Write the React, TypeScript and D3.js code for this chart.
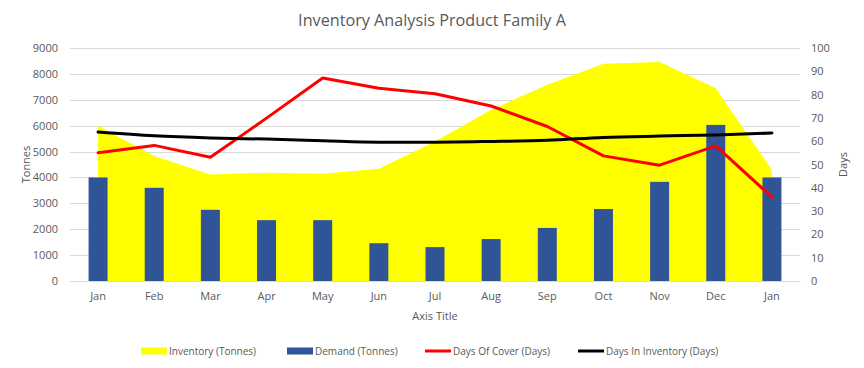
import React, { useEffect, useRef } from 'react';
import * as d3 from 'd3';

const months = ['Jan', 'Feb', 'Mar', 'Apr', 'May', 'Jun', 'Jul', 'Aug', 'Sep', 'Oct', 'Nov', 'Dec', 'Jan'];
const inventory = [6000, 4830, 4110, 4180, 4140, 4340, 5390, 6610, 7580, 8390, 8460, 7450, 4290];
const demand = [4000, 3600, 2750, 2350, 2350, 1460, 1310, 1620, 2050, 2780, 3830, 6030, 4000];
const daysOfCover = [55, 58.2, 53.1, 69.9, 87.1, 82.7, 80.4, 75.1, 66.3, 53.7, 49.7, 58, 36];
const daysInInventory = [63.9, 62.3, 61.4, 60.9, 60.2, 59.6, 59.6, 59.9, 60.4, 61.6, 62.2, 62.7, 63.5];
const leftTicks = [0, 1000, 2000, 3000, 4000, 5000, 6000, 7000, 8000, 9000];
const rightTicks = [0, 10, 20, 30, 40, 50, 60, 70, 80, 90, 100];

const legendItems = [
    { label: 'Inventory (Tonnes)', kind: 'area', color: '#ffff00', x: 141 },
    { label: 'Demand (Tonnes)', kind: 'bar', color: '#2f5597', x: 287 },
    { label: 'Days Of Cover (Days)', kind: 'line', color: '#ff0000', x: 425 },
    { label: 'Days In Inventory (Days)', kind: 'line', color: '#000000', x: 578 },
];

const App: React.FC = () => {
    const svgRef = useRef<SVGSVGElement>(null);

    useEffect(() => {
        if (!svgRef.current) return;
        const width = 864;
        const height = 368;
        const svg = d3.select(svgRef.current);
        svg.selectAll('*').remove();

        const font = "'Open Sans', 'DejaVu Sans', sans-serif";
        const textColor = '#595959';
        const margin = { top: 48, right: 64, bottom: 87, left: 70 };
        const innerWidth = width - margin.left - margin.right;
        const innerHeight = height - margin.top - margin.bottom;

        svg.append('rect').attr('width', width).attr('height', height).attr('fill', '#fff');

        const g = svg.append('g').attr('transform', `translate(${margin.left},${margin.top})`);

        const idx = months.map((_, i) => i);
        const x = d3.scaleBand<number>().domain(idx).range([0, innerWidth]);
        const cx = (i: number) => (x(i) as number) + x.bandwidth() / 2;
        const yLeft = d3.scaleLinear().domain([0, 9000]).range([innerHeight, 0]);
        const yRight = d3.scaleLinear().domain([0, 100]).range([innerHeight, 0]);

        // gridlines
        g.selectAll('.grid')
            .data(leftTicks)
            .enter()
            .append('line')
            .attr('x1', 0)
            .attr('x2', innerWidth)
            .attr('y1', d => Math.round(yLeft(d)) + 0.5)
            .attr('y2', d => Math.round(yLeft(d)) + 0.5)
            .attr('stroke', '#d9d9d9')
            .attr('stroke-width', 1);

        // inventory area
        const area = d3.area<number>()
            .x((_, i) => cx(i))
            .y0(innerHeight)
            .y1(d => yLeft(d));
        g.append('path').datum(inventory).attr('d', area).attr('fill', '#ffff00');

        // demand bars
        const barW = 19;
        g.selectAll('.bar')
            .data(demand)
            .enter()
            .append('rect')
            .attr('x', (_, i) => cx(i) - barW / 2)
            .attr('y', d => yLeft(d))
            .attr('width', barW)
            .attr('height', d => innerHeight - yLeft(d))
            .attr('fill', '#2f5597');

        // lines
        const redLine = d3.line<number>().x((_, i) => cx(i)).y(d => yRight(d));
        g.append('path').datum(daysOfCover).attr('d', redLine)
            .attr('fill', 'none').attr('stroke', '#ff0000').attr('stroke-width', 3)
            .attr('stroke-linejoin', 'round').attr('stroke-linecap', 'round');

        const blackLine = d3.line<number>().x((_, i) => cx(i)).y(d => yRight(d)).curve(d3.curveMonotoneX);
        g.append('path').datum(daysInInventory).attr('d', blackLine)
            .attr('fill', 'none').attr('stroke', '#000').attr('stroke-width', 3)
            .attr('stroke-linecap', 'round');

        // x axis
        const xAxis = g.append('g')
            .attr('transform', `translate(0,${innerHeight})`)
            .call(d3.axisBottom(x).tickSize(0).tickPadding(11).tickFormat(i => months[i as number]));
        xAxis.select('.domain').attr('stroke', '#d9d9d9');
        xAxis.selectAll('text').attr('fill', textColor).attr('font-size', 11).attr('font-family', font);

        // left axis
        const lAxis = g.append('g')
            .call(d3.axisLeft(yLeft).tickValues(leftTicks).tickSize(0).tickPadding(12).tickFormat(d => String(d)));
        lAxis.select('.domain').remove();
        lAxis.selectAll('text').attr('fill', textColor).attr('font-size', 11).attr('font-family', font);

        // right axis
        const rAxis = g.append('g')
            .attr('transform', `translate(${innerWidth},0)`)
            .call(d3.axisRight(yRight).tickValues(rightTicks).tickSize(0).tickPadding(11).tickFormat(d => String(d)));
        rAxis.select('.domain').remove();
        rAxis.selectAll('text').attr('fill', textColor).attr('font-size', 11).attr('font-family', font);

        // titles
        svg.append('text')
            .attr('x', 432).attr('y', 26)
            .attr('text-anchor', 'middle')
            .attr('font-size', 16.2).attr('font-family', font)
            .attr('fill', textColor)
            .text('Inventory Analysis Product Family A');

        svg.append('text')
            .attr('x', margin.left + innerWidth / 2).attr('y', 320)
            .attr('text-anchor', 'middle')
            .attr('font-size', 11).attr('font-family', font)
            .attr('fill', textColor)
            .text('Axis Title');

        svg.append('text')
            .attr('transform', `translate(30,${margin.top + innerHeight / 2}) rotate(-90)`)
            .attr('text-anchor', 'middle')
            .attr('font-size', 11).attr('font-family', font)
            .attr('fill', textColor)
            .text('Tonnes');

        svg.append('text')
            .attr('transform', `translate(847,${margin.top + innerHeight / 2}) rotate(-90)`)
            .attr('text-anchor', 'middle')
            .attr('font-size', 11).attr('font-family', font)
            .attr('fill', textColor)
            .text('Days');

        // legend
        const legend = svg.append('g').attr('transform', 'translate(0,351)');
        legendItems.forEach(item => {
            const lg = legend.append('g').attr('transform', `translate(${item.x},0)`);
            if (item.kind === 'line') {
                lg.append('line').attr('x1', 0).attr('x2', 26).attr('y1', 0).attr('y2', 0)
                    .attr('stroke', item.color).attr('stroke-width', 3);
            } else {
                lg.append('rect').attr('x', 0).attr('y', -3.5).attr('width', 26).attr('height', 7)
                    .attr('fill', item.color);
            }
            lg.append('text')
                .attr('x', 28).attr('y', 4)
                .attr('font-size', 10).attr('font-family', font)
                .attr('fill', textColor)
                .text(item.label);
        });
    }, []);

    return <svg ref={svgRef} width={864} height={368} style={{ position: 'absolute', left: 0, top: 0 }}></svg>;
};

export default App;
